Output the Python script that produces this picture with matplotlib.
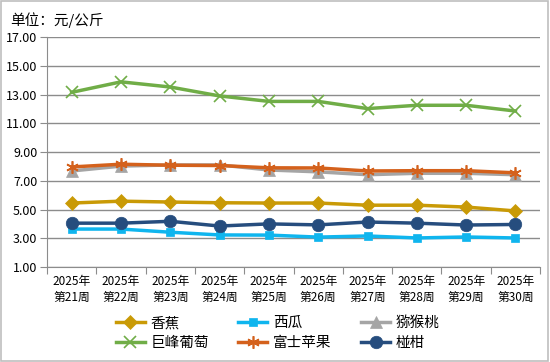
import numpy as np
import matplotlib
matplotlib.use('Agg')
import matplotlib.pyplot as plt
from matplotlib.patches import Rectangle

plt.rcParams['font.family'] = ['Noto Sans CJK SC', 'DejaVu Sans']

weeks = [f"2025年\n第{w}周" for w in range(21, 31)]
banana     = [5.45, 5.58, 5.52, 5.47, 5.45, 5.45, 5.30, 5.30, 5.17, 4.90]
watermelon = [3.64, 3.64, 3.42, 3.23, 3.22, 3.08, 3.16, 3.02, 3.09, 3.02]
kiwi       = [7.68, 8.02, 8.10, 8.10, 7.75, 7.62, 7.42, 7.52, 7.52, 7.42]
grape      = [13.15, 13.88, 13.52, 12.90, 12.52, 12.52, 12.02, 12.25, 12.25, 11.85]
apple      = [7.96, 8.15, 8.08, 8.06, 7.90, 7.89, 7.68, 7.70, 7.70, 7.55]
citrus     = [4.05, 4.05, 4.18, 3.85, 4.00, 3.93, 4.13, 4.05, 3.92, 3.96]

series = [
    ("香蕉", banana, '#C99A06', 'D', 7),
    ("西瓜", watermelon, '#0FB5EE', 's', 6),
    ("猕猴桃", kiwi, '#A5A5A5', '^', 8),
    ("巨峰葡萄", grape, '#70AD47', 'x', 8),
    ("富士苹果", apple, '#D4611C', (6, 2, 0), 9),
    ("椪柑", citrus, '#264D7E', 'o', 9),
]

fig = plt.figure(figsize=(5.5, 3.62), dpi=100)
fig.patches.append(Rectangle((0.002, 0.003), 0.995, 0.994, transform=fig.transFigure,
                             fill=False, edgecolor='#BFBFBF', linewidth=1.2))
ax = fig.add_axes([0.0855, 0.2624, 0.8965, 0.6354])

x = np.arange(len(weeks)) + 0.5
handles = []
for name, vals, col, mk, ms in series:
    h, = ax.plot(x, vals, color=col, linewidth=2.5, marker=mk, markersize=ms,
                 markeredgewidth=1.2 if mk in ('x', (6, 2, 0)) else 0.5,
                 markeredgecolor=col, label=name)
    handles.append(h)

ax.set_xlim(0, len(weeks))
ax.set_ylim(1, 17)
ax.set_yticks(np.arange(1, 18, 2))
ax.set_yticklabels([f"{v:.2f}" for v in np.arange(1, 18, 2)], fontsize=9)
ax.yaxis.grid(True, color='#8C8C8C', linewidth=1)
ax.set_axisbelow(True)

ax.set_xticks(np.arange(0, len(weeks) + 1))
ax.set_xticklabels([])
ax.set_xticks(x, minor=True)
ax.set_xticklabels(weeks, minor=True, fontsize=8.5, linespacing=1.3)
ax.tick_params(axis='x', which='major', length=5, color='#8C8C8C', direction='out')
ax.tick_params(axis='x', which='minor', length=0, pad=6)
ax.tick_params(axis='y', length=5, color='#8C8C8C', pad=2)

for s in ('top', 'right'):
    ax.spines[s].set_visible(False)
for s in ('left', 'bottom'):
    ax.spines[s].set_color('#8C8C8C')

fig.text(0.018, 0.945, "单位：元/公斤", fontsize=10.5, va='center')

# matplotlib fills legend column by column; reorder so rows read like the reference
order = [0, 3, 1, 4, 2, 5]
fig.legend([handles[i] for i in order], [series[i][0] for i in order],
           loc='center', bbox_to_anchor=(0.505, 0.08), ncol=3, frameon=False,
           fontsize=10.5, handlelength=2.0, columnspacing=2.0, handletextpad=0.4,
           labelspacing=0.4)

fig.savefig("out.png", dpi=100)
